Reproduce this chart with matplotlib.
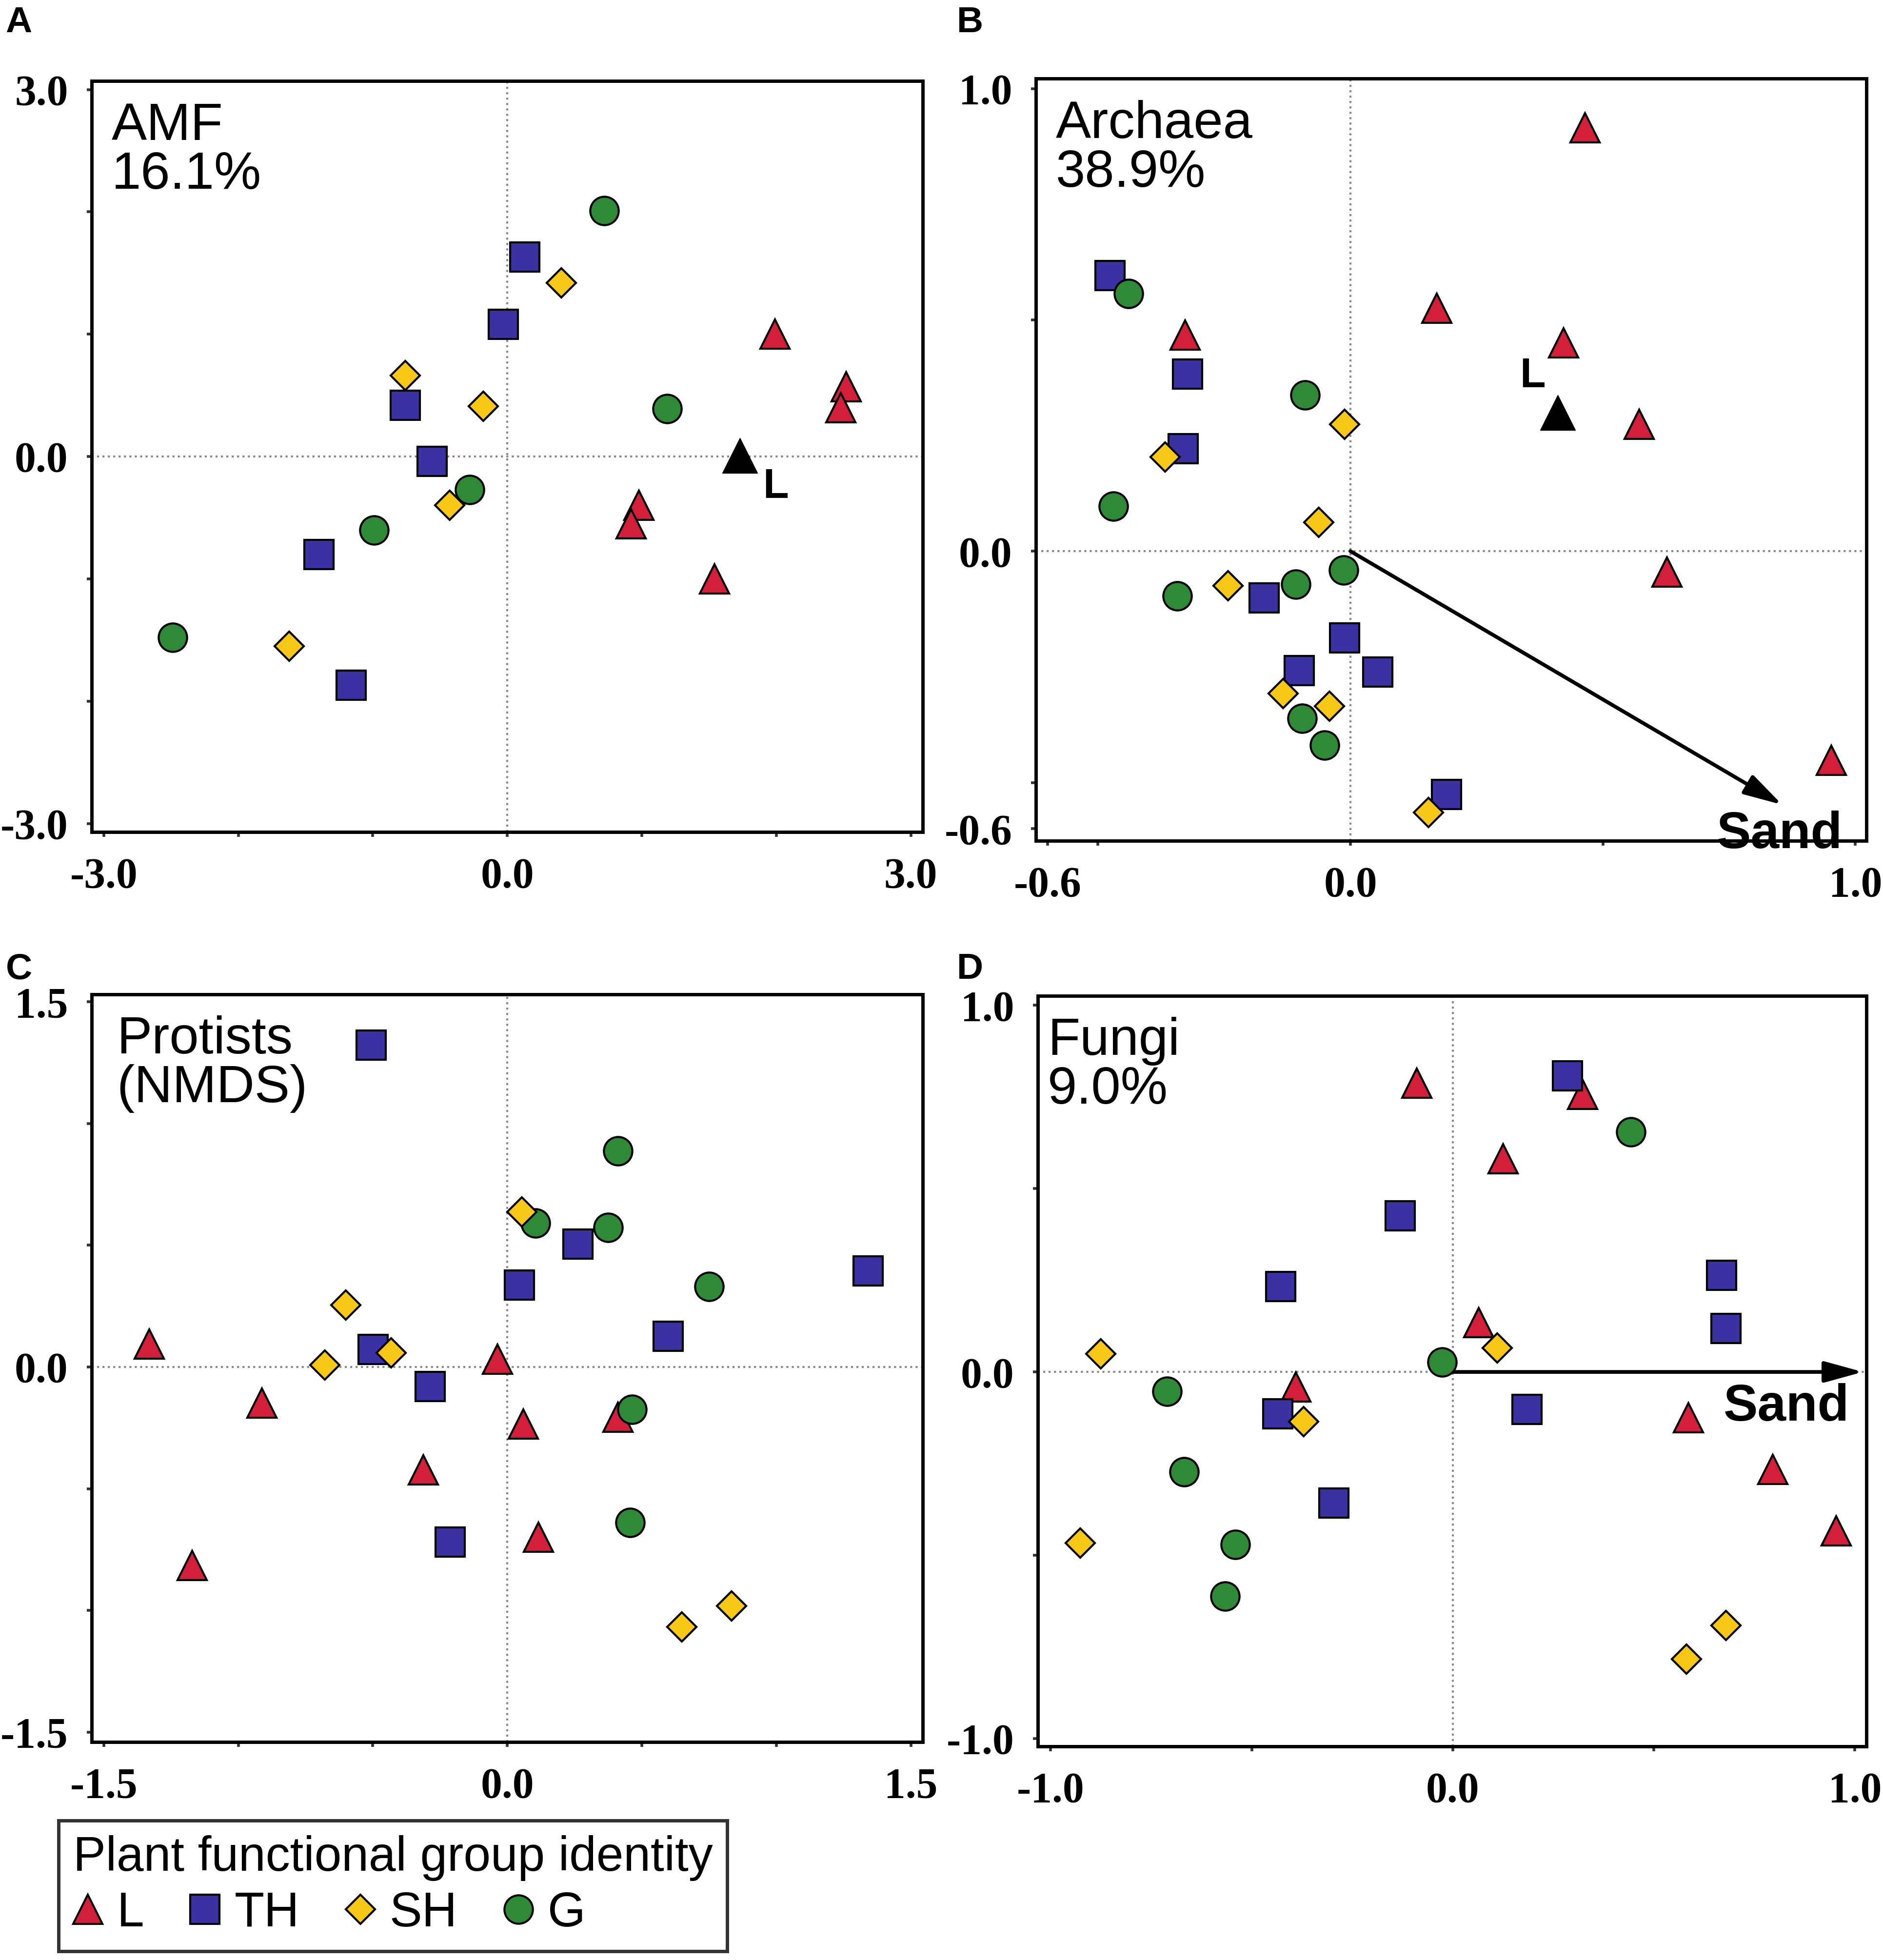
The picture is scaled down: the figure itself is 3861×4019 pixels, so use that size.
# ordination plots (AMF, Archaea, Protists, Fungi) by plant functional group
import matplotlib
matplotlib.use("Agg")
import matplotlib.pyplot as plt
from matplotlib.lines import Line2D

# ---- data ----
# A: AMF
amf_L_x = [1.99, 2.52, 2.48, 0.98, 0.92, 1.54]
amf_L_y = [1.00, 0.57, 0.40, -0.40, -0.55, -1.00]
amf_TH_x = [0.13, -0.03, -0.76, -0.56, -1.40, -1.16]
amf_TH_y = [1.63, 1.08, 0.42, -0.04, -0.80, -1.87]
amf_SH_x = [0.40, -0.76, -0.18, -0.43, -1.62]
amf_SH_y = [1.42, 0.66, 0.41, -0.40, -1.55]
amf_G_x = [0.72, 1.19, -0.28, -0.99, -2.49]
amf_G_y = [2.01, 0.39, -0.27, -0.60, -1.48]
amf_centroid = (1.73, 0.01)

# B: Archaea
arc_L_x = [0.464, 0.171, 0.422, 0.572, 0.627, 0.952, -0.328]
arc_L_y = [0.915, 0.525, 0.450, 0.274, -0.045, -0.452, 0.467]
arc_TH_x = [-0.476, -0.323, -0.331, -0.171, -0.012, -0.102, 0.054, 0.190]
arc_TH_y = [0.596, 0.383, 0.222, -0.101, -0.187, -0.258, -0.261, -0.526]
arc_SH_x = [-0.012, -0.367, -0.063, -0.243, -0.133, -0.042, 0.154]
arc_SH_y = [0.274, 0.204, 0.062, -0.075, -0.307, -0.335, -0.565]
arc_G_x = [-0.44, -0.09, -0.47, -0.343, -0.108, -0.014, -0.096, -0.051]
arc_G_y = [0.557, 0.338, 0.097, -0.097, -0.071, -0.041, -0.361, -0.419]
arc_centroid = (0.41, 0.30)
arc_sand = (0.855, -0.548)

# C: Protists (NMDS)
pro_L_x = [-1.332, -0.036, -0.913, 0.060, 0.412, -0.313, 0.116, -1.171]
pro_L_y = [0.094, 0.032, -0.148, -0.234, -0.207, -0.422, -0.699, -0.815]
pro_TH_x = [-0.506, 0.262, 0.045, 1.341, 0.598, -0.499, -0.287, -0.213]
pro_TH_y = [1.323, 0.505, 0.336, 0.395, 0.126, 0.073, -0.081, -0.720]
pro_SH_x = [0.054, -0.600, -0.678, -0.432, 0.649, 0.833]
pro_SH_y = [0.637, 0.255, 0.008, 0.059, -1.067, -0.981]
pro_G_x = [0.412, 0.105, 0.374, 0.750, 0.463, 0.457]
pro_G_y = [0.887, 0.591, 0.573, 0.331, -0.175, -0.640]

# D: Fungi
fun_L_x = [-0.090, 0.323, 0.125, 0.065, -0.390, 0.586, 0.796, 0.953]
fun_L_y = [0.787, 0.757, 0.582, 0.134, -0.041, -0.125, -0.266, -0.433]
fun_TH_x = [0.285, -0.131, -0.428, 0.668, 0.680, -0.435, 0.185, -0.296]
fun_TH_y = [0.807, 0.426, 0.233, 0.263, 0.119, -0.114, -0.102, -0.357]
fun_SH_x = [-0.875, 0.110, -0.371, -0.926, 0.679, 0.581]
fun_SH_y = [0.050, 0.065, -0.135, -0.467, -0.691, -0.783]
fun_G_x = [0.443, -0.026, -0.710, -0.668, -0.541, -0.566]
fun_G_y = [0.655, 0.027, -0.053, -0.272, -0.471, -0.611]
fun_sand = (1.02, 0.0)

groups = ['L', 'TH', 'SH', 'G']

# ---- styles ----
RED = '#d41f3a'
BLUE = '#3b31a3'
YELLOW = '#f7c716'
GREEN = '#2e8a37'
sty = {
    'L':  dict(marker='^', ms=43, mfc=RED),
    'TH': dict(marker='s', ms=43, mfc=BLUE),
    'SH': dict(marker='D', ms=31, mfc=YELLOW),
    'G':  dict(marker='o', ms=42, mfc=GREEN),
}
SANS = 'Liberation Sans'
SERIF = 'Liberation Serif'

fig = plt.figure(figsize=(38.62, 40.19), dpi=100)


def panel(rect, xlim, ylim, xmaj, xmin, ymaj, ymin, series, title, title_x, letter, letter_pos):
    ax = fig.add_axes(rect)
    ax.set_xlim(*xlim)
    ax.set_ylim(*ylim)
    ax.axhline(0, color='#888888', ls=':', lw=3, zorder=1)
    ax.axvline(0, color='#888888', ls=':', lw=3, zorder=1)
    for g in ['L', 'TH', 'G', 'SH']:
        x, y = series[g]
        ax.plot(x, y, ls='none', mec='black', mew=3, zorder=3, **sty[g])
    ax.set_xticks(xmaj)
    ax.set_xticklabels(['%.1f' % v for v in xmaj])
    ax.set_xticks(xmin, minor=True)
    ax.set_yticks(ymaj)
    ax.set_yticklabels(['%.1f' % v for v in ymaj])
    ax.set_yticks(ymin, minor=True)
    ax.tick_params(which='both', direction='out', length=7, width=4, color='#333333')
    ax.tick_params(axis='x', pad=30)
    ax.tick_params(axis='y', pad=28)
    for lab in ax.get_xticklabels() + ax.get_yticklabels():
        lab.set_fontfamily(SERIF)
        lab.set_fontweight('bold')
        lab.set_fontsize(63)
    for s in ax.spines.values():
        s.set_linewidth(5)
    ax.text(title_x, 0.972, title, transform=ax.transAxes, ha='left', va='top',
            fontsize=78, family=SANS, linespacing=1.0, zorder=5)
    fig.text(letter_pos[0], letter_pos[1], letter, ha='left', va='top',
             fontsize=54, family=SANS, fontweight='bold')
    return ax


axA = panel([0.0487, 0.5755, 0.4413, 0.3832], (-3.09, 3.09), (-3.07, 3.07),
            [-3, 0, 3], [-2, -1, 1, 2], [-3, 0, 3], [-2, -1, 1, 2],
            {'L': (amf_L_x, amf_L_y), 'TH': (amf_TH_x, amf_TH_y),
             'SH': (amf_SH_x, amf_SH_y), 'G': (amf_G_x, amf_G_y)},
            'AMF\n16.1%', 0.024, 'A', (0.003, 0.997))
axA.plot(*amf_centroid, marker='^', ms=52, color='black', zorder=4)
axA.text(amf_centroid[0] + 0.17, amf_centroid[1] - 0.1, 'L', fontsize=62, family=SANS,
         fontweight='bold', ha='left', va='top', zorder=5)

axB = panel([0.550, 0.571, 0.441, 0.389], (-0.623, 1.022), (-0.626, 1.022),
            [-0.6, 0, 1.0], [-0.5, 0.5], [-0.6, 0, 1.0], [-0.5, 0.5],
            {'L': (arc_L_x, arc_L_y), 'TH': (arc_TH_x, arc_TH_y),
             'SH': (arc_SH_x, arc_SH_y), 'G': (arc_G_x, arc_G_y)},
            'Archaea\n38.9%', 0.024, 'B', (0.508, 0.997))
axB.plot(*arc_centroid, marker='^', ms=52, color='black', zorder=4)
axB.text(arc_centroid[0] - 0.075, arc_centroid[1] + 0.035, 'L', fontsize=62, family=SANS,
         fontweight='bold', ha='left', va='bottom', zorder=5)
axB.annotate('', xy=arc_sand, xytext=(0, 0),
             arrowprops=dict(arrowstyle='-|>,head_length=0.8,head_width=0.22',
                             lw=5.5, color='black', shrinkA=0, shrinkB=0,
                             mutation_scale=60), zorder=2)
axB.text(arc_sand[0] - 0.005, arc_sand[1] - 0.012, 'Sand', fontsize=76, family=SANS,
         fontweight='bold', ha='center', va='top', zorder=5)

axC = panel([0.0487, 0.1112, 0.4413, 0.3815], (-1.545, 1.545), (-1.541, 1.531),
            [-1.5, 0, 1.5], [-1.0, -0.5, 0.5, 1.0], [-1.5, 0, 1.5], [-1.0, -0.5, 0.5, 1.0],
            {'L': (pro_L_x, pro_L_y), 'TH': (pro_TH_x, pro_TH_y),
             'SH': (pro_SH_x, pro_SH_y), 'G': (pro_G_x, pro_G_y)},
            'Protists\n(NMDS)', 0.03, 'C', (0.003, 0.514))

axD = panel([0.551, 0.109, 0.440, 0.383], (-1.032, 1.029), (-1.021, 1.026),
            [-1.0, 0, 1.0], [-0.5, 0.5], [-1.0, 0, 1.0], [-0.5, 0.5],
            {'L': (fun_L_x, fun_L_y), 'TH': (fun_TH_x, fun_TH_y),
             'SH': (fun_SH_x, fun_SH_y), 'G': (fun_G_x, fun_G_y)},
            'Fungi\n9.0%', 0.012, 'D', (0.508, 0.514))
axD.annotate('', xy=fun_sand, xytext=(0, 0),
             arrowprops=dict(arrowstyle='-|>,head_length=0.8,head_width=0.22',
                             lw=5.5, color='black', shrinkA=0, shrinkB=0,
                             mutation_scale=60), zorder=2)
axD.text(0.83, -0.03, 'Sand', fontsize=76, family=SANS, fontweight='bold',
         ha='center', va='top', zorder=5)

# legend
handles = [Line2D([], [], ls='none', mec='black', mew=3, **sty[g]) for g in groups]
leg = fig.legend(handles, groups, loc='lower left', bbox_to_anchor=(0.031, 0.0045),
                 ncol=4, title='Plant functional group identity', frameon=True,
                 fancybox=False, edgecolor='black', prop={'family': SANS, 'size': 72},
                 handlelength=0.6, handletextpad=0.3, columnspacing=0.95,
                 borderpad=0.3, labelspacing=0.2, borderaxespad=0, alignment='left',
                 markerscale=1.0)
leg.get_title().set_fontfamily(SANS)
leg.get_title().set_fontsize(72)
leg.get_frame().set_linewidth(5)

fig.savefig('out.png', dpi=100)
